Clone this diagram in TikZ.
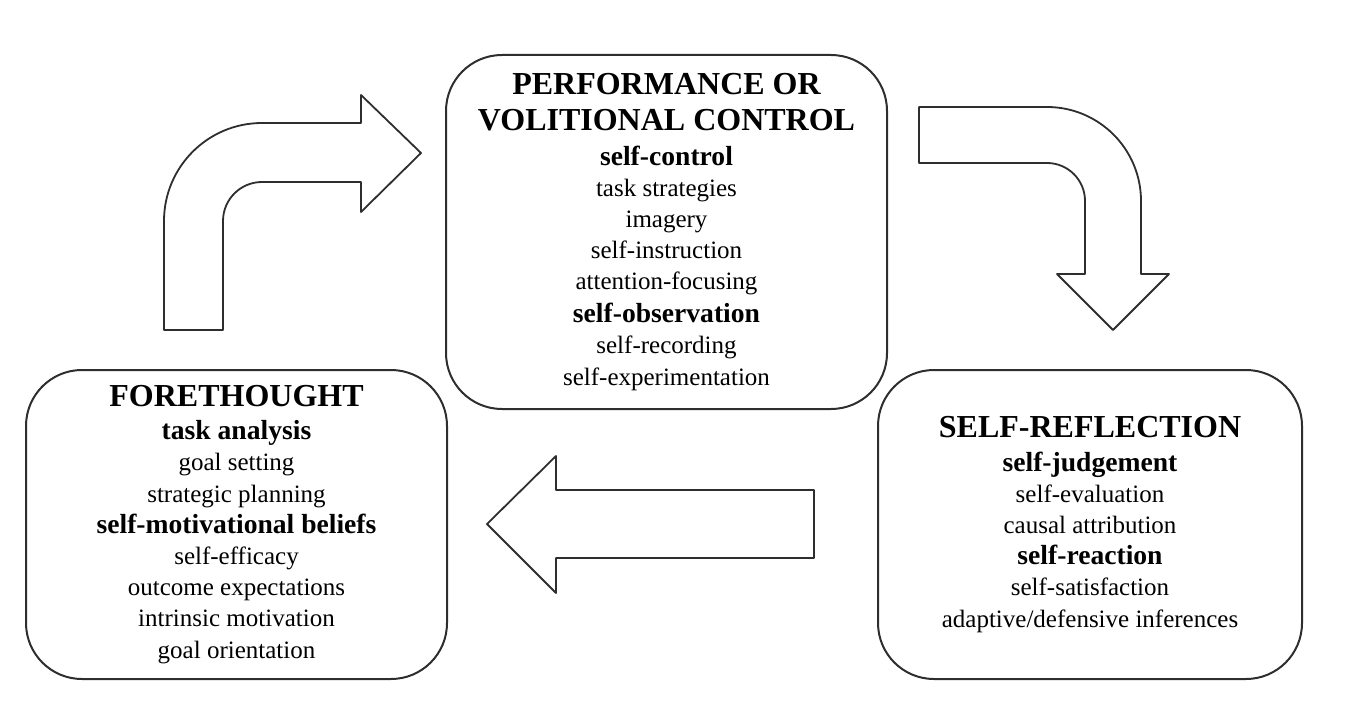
\documentclass[tikz,border=0pt]{standalone}
\usepackage{tikz}
\usepackage{fontspec}
\setmainfont{Liberation Serif}
\definecolor{qqqqqq}{rgb}{0.18,0.18,0.18}
\newcommand{\phasehead}[1]{{\fontsize{16}{18}\selectfont\bfseries #1}}
\newcommand{\subhead}[1]{{\fontsize{13.8}{15.6}\selectfont\bfseries #1}}
\tikzset{
  phasebox/.style={draw=qqqqqq,line width=1pt,rounded corners=28pt,inner sep=0pt,
    align=center,font=\fontsize{12.5}{15.6}\selectfont},
  blockarrow/.style={draw=qqqqqq,line width=0.9pt,fill=white}
}
\begin{document}
\begin{tikzpicture}[line cap=round,line join=round,x=0.5pt,y=-0.5pt]
\useasboundingbox (0,0) rectangle (1347,711);
\node[phasebox,minimum width=220.5pt,minimum height=177pt] (perf) at (666.5,232)
  {\phasehead{PERFORMANCE OR}\\[2.5pt]\phasehead{VOLITIONAL CONTROL}\\[1.5pt]
   \subhead{self-control}\\task strategies\\imagery\\self-instruction\\attention-focusing\\[0.8pt]
   \subhead{self-observation}\\self-recording\\self-experimentation};
\node[phasebox,minimum width=210.5pt,minimum height=154.5pt] (fore) at (236.5,524.5)
  {\phasehead{FORETHOUGHT}\\[0.8pt]\subhead{task analysis}\\goal setting\\strategic planning\\
   \subhead{self-motivational beliefs}\\self-efficacy\\outcome expectations\\intrinsic motivation\\goal orientation};
\node[phasebox,minimum width=212pt,minimum height=154.5pt] (refl) at (1090,524.5)
  {\phasehead{SELF-REFLECTION}\\[1pt]\subhead{self-judgement}\\self-evaluation\\causal attribution\\
   \subhead{self-reaction}\\self-satisfaction\\adaptive/defensive inferences};
% forethought to performance
\draw[blockarrow] (164,330) -- (164,221) arc[start angle=180,end angle=270,radius=98]
  -- (361,123) -- (361,95) -- (421,153) -- (361,212) -- (361,182) -- (262,182)
  arc[start angle=270,end angle=180,radius=39] -- (223,330) -- cycle;
% performance to self-reflection
\draw[blockarrow] (919,107) -- (1047,107) arc[start angle=270,end angle=360,radius=94]
  -- (1141,274) -- (1169,274) -- (1113,330) -- (1057,274) -- (1085,274) -- (1085,201)
  arc[start angle=0,end angle=-90,radius=38] -- (919,163) -- cycle;
% self-reflection to forethought
\draw[blockarrow] (814,490) -- (556,490) -- (556,456) -- (487,524) -- (556,593)
  -- (556,558) -- (814,558) -- cycle;
\end{tikzpicture}
\end{document}
